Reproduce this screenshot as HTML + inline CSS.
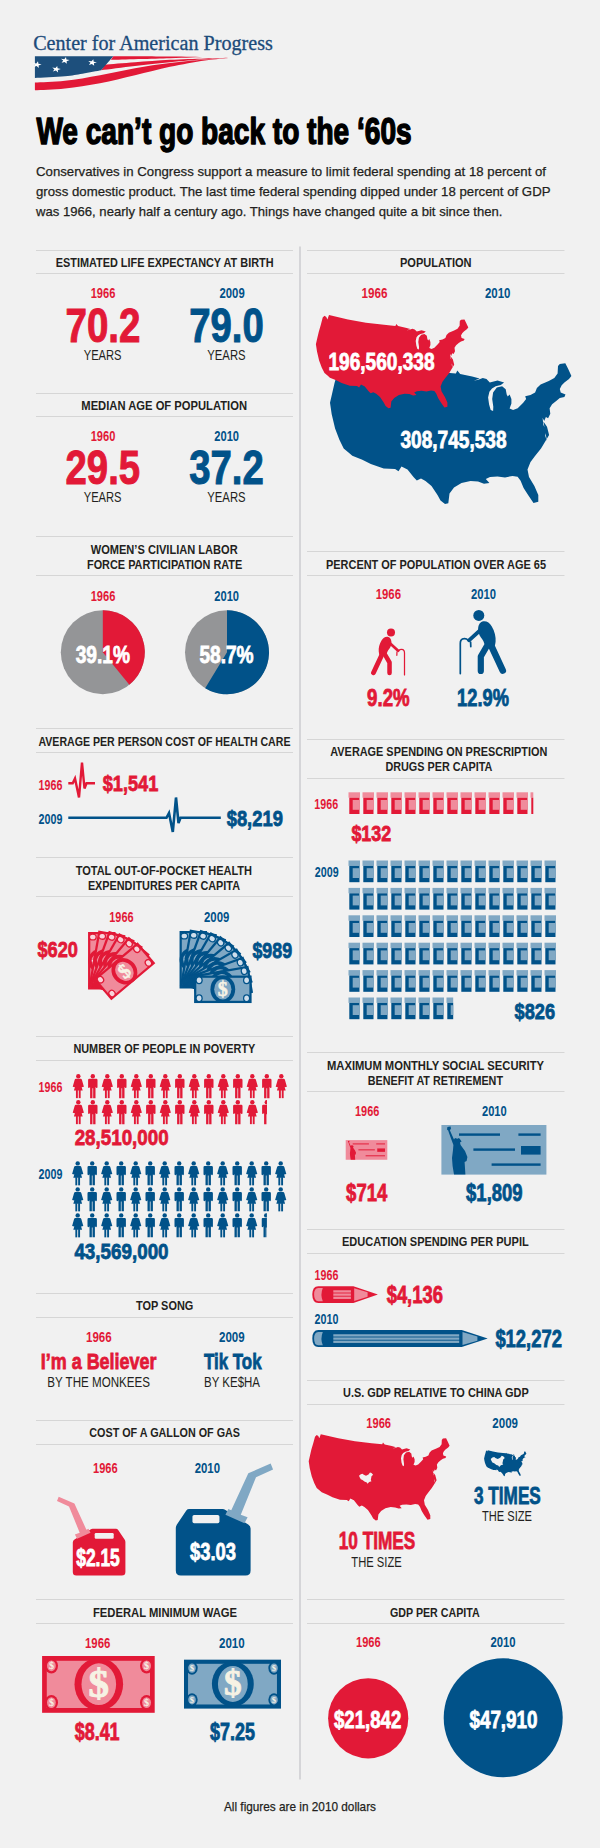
<!DOCTYPE html>
<html lang="en"><head><meta charset="utf-8"><title>We can't go back to the '60s</title>
<style>
html,body{margin:0;padding:0;background:#f1f1f1;}
body{width:600px;height:1848px;overflow:hidden;}
svg{display:block;}
text{font-family:"Liberation Sans",sans-serif;font-weight:bold;}
text.f{font-family:"Liberation Serif",serif;}
text.n{font-weight:normal;}
</style></head><body>
<svg width="600" height="1848" viewBox="0 0 600 1848">
<rect width="600" height="1848" fill="#f1f1f1"/>
<path d="M300,246.5V1779.5" stroke="#d5d5d8" stroke-width="2"/>
<text class="f n" x="33.2" y="50.4" font-size="20.5" fill="#1c4b7a" textLength="239.6" lengthAdjust="spacingAndGlyphs" stroke="#1c4b7a" stroke-width="0.3">Center for American Progress</text>
<g id="flag">
<path d="M34.9,82.6C39.9,82.3 54.2,82.0 65.0,80.8C75.9,79.6 88.3,77.3 100.0,75.2C111.7,73.1 123.3,70.2 135.0,68.2C146.7,66.2 158.3,64.4 170.0,63.0C181.7,61.5 195.0,60.3 205.0,59.5C215.0,58.6 226.0,58.0 230.2,57.7L230.2,57.7C226.0,58.2 215.0,59.0 205.0,60.5C195.0,62.0 181.7,64.4 170.0,66.8C158.3,69.3 146.7,72.5 135.0,75.2C123.3,77.9 111.7,81.0 100.0,83.3C88.3,85.5 75.9,87.3 65.0,88.5C54.2,89.7 39.9,90.0 34.9,90.3Z" fill="#e21937"/>
<path d="M104.9,64.7C109.9,64.3 124.2,63.1 135.0,62.3C145.9,61.4 158.3,60.4 170.0,59.8C181.7,59.2 195.0,58.8 205.0,58.4C215.0,58.1 226.0,57.8 230.2,57.7L230.2,57.7C226.0,58.0 215.0,58.5 205.0,59.3C195.0,60.0 181.7,61.1 170.0,62.3C158.3,63.4 146.4,64.8 135.0,66.1C123.6,67.4 107.0,69.6 101.4,70.3Z" fill="#e21937"/>
<path d="M113.3,56.3C122.8,56.3 154.7,56.4 170.0,56.5C185.3,56.6 199.2,56.9 205.0,57.0L205.0,57.0C199.2,57.2 185.7,57.8 170.0,58.2C154.3,58.7 120.7,59.5 110.9,59.8Z" fill="#e21937"/>
<path d="M34.9,56.3C48.0,56.3 100.2,56.3 113.3,56.3L101.1,70.3C98.0,70.9 88.5,72.8 82.5,73.8C76.5,74.8 72.9,75.6 65.0,76.3C57.1,77.0 39.9,77.7 34.9,78.0Z" fill="#1d4f7c"/>
<polygon points="93.3,59.2 93.7,61.7 96.9,62.2 93.9,63.3 94.2,65.8 91.9,64.0 88.9,64.9 90.5,62.7 88.3,60.9 91.6,61.3" fill="#fff"/>
<polygon points="66.0,57.1 66.4,59.6 69.6,60.1 66.6,61.2 66.9,63.7 64.6,61.9 61.6,62.8 63.2,60.6 61.0,58.8 64.3,59.2" fill="#fff"/>
<polygon points="57.2,65.9 57.6,68.3 60.8,68.9 57.8,69.9 58.1,72.4 55.9,70.6 52.8,71.6 54.4,69.4 52.3,67.5 55.5,68.0" fill="#fff"/>
<polygon points="38.0,61.3 38.4,63.8 41.6,64.3 38.6,65.4 38.9,67.9 36.6,66.1 33.6,67.0 35.2,64.8 33.0,63.0 36.3,63.4" fill="#fff"/>
</g>
<text class="s" x="36.4" y="144.0" font-size="36.5" fill="#000" textLength="375.2" lengthAdjust="spacingAndGlyphs" stroke="#000" stroke-width="1.5" stroke-linejoin="round">We can’t go back to the ‘60s</text>
<text class="s n" x="36.0" y="176.0" font-size="13.5" fill="#231f20" textLength="510.0" lengthAdjust="spacingAndGlyphs" stroke="#231f20" stroke-width="0.25">Conservatives in Congress support a measure to limit federal spending at 18 percent of</text>
<text class="s n" x="36.0" y="196.0" font-size="13.5" fill="#231f20" textLength="514.5" lengthAdjust="spacingAndGlyphs" stroke="#231f20" stroke-width="0.25">gross domestic product. The last time federal spending dipped under 18 percent of GDP</text>
<text class="s n" x="36.0" y="216.0" font-size="13.5" fill="#231f20" textLength="466.5" lengthAdjust="spacingAndGlyphs" stroke="#231f20" stroke-width="0.25">was 1966, nearly half a century ago. Things have changed quite a bit since then.</text>
<path d="M36,250.5H293" stroke="#d6d6d6" stroke-width="1"/>
<path d="M36,273.5H293" stroke="#d6d6d6" stroke-width="1"/>
<text class="s" x="55.7" y="267.0" font-size="12.5" fill="#231f20" textLength="217.9" lengthAdjust="spacingAndGlyphs">ESTIMATED LIFE EXPECTANCY AT BIRTH</text>
<text class="s" x="90.7" y="298.0" font-size="14" fill="#e21937" textLength="24.7" lengthAdjust="spacingAndGlyphs">1966</text>
<text class="s" x="219.5" y="298.0" font-size="14" fill="#015289" textLength="25.2" lengthAdjust="spacingAndGlyphs">2009</text>
<text class="s" x="65.5" y="341.5" font-size="47.5" fill="#e21937" textLength="75.0" lengthAdjust="spacingAndGlyphs" stroke="#e21937" stroke-width="1">70.2</text>
<text class="s" x="189.2" y="341.5" font-size="47.5" fill="#015289" textLength="74.6" lengthAdjust="spacingAndGlyphs" stroke="#015289" stroke-width="1">79.0</text>
<text class="s n" x="83.7" y="359.5" font-size="15" fill="#231f20" textLength="37.8" lengthAdjust="spacingAndGlyphs">YEARS</text>
<text class="s n" x="207.3" y="359.5" font-size="15" fill="#231f20" textLength="38.3" lengthAdjust="spacingAndGlyphs">YEARS</text>
<path d="M36,393.5H293" stroke="#d6d6d6" stroke-width="1"/>
<path d="M36,416.5H293" stroke="#d6d6d6" stroke-width="1"/>
<text class="s" x="81.3" y="410.0" font-size="12.5" fill="#231f20" textLength="165.7" lengthAdjust="spacingAndGlyphs">MEDIAN AGE OF POPULATION</text>
<text class="s" x="90.7" y="441.3" font-size="14" fill="#e21937" textLength="24.7" lengthAdjust="spacingAndGlyphs">1960</text>
<text class="s" x="214.3" y="441.3" font-size="14" fill="#015289" textLength="24.7" lengthAdjust="spacingAndGlyphs">2010</text>
<text class="s" x="65.5" y="484.0" font-size="47.5" fill="#e21937" textLength="74.6" lengthAdjust="spacingAndGlyphs" stroke="#e21937" stroke-width="1">29.5</text>
<text class="s" x="189.2" y="484.0" font-size="47.5" fill="#015289" textLength="74.6" lengthAdjust="spacingAndGlyphs" stroke="#015289" stroke-width="1">37.2</text>
<text class="s n" x="83.7" y="502.0" font-size="15" fill="#231f20" textLength="37.8" lengthAdjust="spacingAndGlyphs">YEARS</text>
<text class="s n" x="207.3" y="502.0" font-size="15" fill="#231f20" textLength="38.3" lengthAdjust="spacingAndGlyphs">YEARS</text>
<path d="M36,536.5H293" stroke="#d6d6d6" stroke-width="1"/>
<path d="M36,575.5H293" stroke="#d6d6d6" stroke-width="1"/>
<text class="s" x="90.7" y="553.8" font-size="12.5" fill="#231f20" textLength="147.0" lengthAdjust="spacingAndGlyphs">WOMEN’S CIVILIAN LABOR</text>
<text class="s" x="87.0" y="568.7" font-size="12.5" fill="#231f20" textLength="155.3" lengthAdjust="spacingAndGlyphs">FORCE PARTICIPATION RATE</text>
<text class="s" x="90.7" y="600.6" font-size="14" fill="#e21937" textLength="24.7" lengthAdjust="spacingAndGlyphs">1966</text>
<text class="s" x="214.3" y="600.6" font-size="14" fill="#015289" textLength="24.7" lengthAdjust="spacingAndGlyphs">2010</text>
<circle cx="102.8" cy="652.3" r="42" fill="#949597"/>
<path d="M102.8,652.3L102.8,610.3A42,42 0 0 1 129.37,684.83Z" fill="#e21937"/>
<circle cx="227" cy="652.3" r="42" fill="#949597"/>
<path d="M227,652.3L227,610.3A42,42 0 1 1 205.17,688.18Z" fill="#015289"/>
<text class="s" x="75.7" y="663.0" font-size="24.6" fill="#fff" textLength="54.2" lengthAdjust="spacingAndGlyphs" stroke="#fff" stroke-width="0.8">39.1%</text>
<text class="s" x="199.4" y="663.0" font-size="24.6" fill="#fff" textLength="54.2" lengthAdjust="spacingAndGlyphs" stroke="#fff" stroke-width="0.8">58.7%</text>
<path d="M36,728.5H293" stroke="#d6d6d6" stroke-width="1"/>
<path d="M36,752.5H293" stroke="#d6d6d6" stroke-width="1"/>
<text class="s" x="38.4" y="745.6" font-size="12.5" fill="#231f20" textLength="252.1" lengthAdjust="spacingAndGlyphs">AVERAGE PER PERSON COST OF HEALTH CARE</text>
<text class="s" x="38.6" y="789.5" font-size="13.8" fill="#e21937" textLength="23.8" lengthAdjust="spacingAndGlyphs">1966</text>
<text class="s" x="38.6" y="823.8" font-size="13.8" fill="#015289" textLength="23.8" lengthAdjust="spacingAndGlyphs">2009</text>
<path d="M68.3,783.3H72.7L75,778.5L79,797.5L82,762.5L84.5,788.5L86.5,783.3H95" fill="none" stroke="#e21937" stroke-width="2.4" stroke-linejoin="miter"/>
<path d="M68.3,817.8H166.5L169,813L172.8,832L176,797.5L178.5,823L180.5,817.8H220.8" fill="none" stroke="#015289" stroke-width="2.6" stroke-linejoin="miter"/>
<text class="s" x="102.7" y="791.3" font-size="22.5" fill="#e21937" textLength="55.6" lengthAdjust="spacingAndGlyphs" stroke="#e21937" stroke-width="0.8">$1,541</text>
<text class="s" x="226.7" y="826.0" font-size="22.5" fill="#015289" textLength="56.2" lengthAdjust="spacingAndGlyphs" stroke="#015289" stroke-width="0.8">$8,219</text>
<path d="M36,857.5H293" stroke="#d6d6d6" stroke-width="1"/>
<path d="M36,896.5H293" stroke="#d6d6d6" stroke-width="1"/>
<text class="s" x="75.7" y="874.9" font-size="12.5" fill="#231f20" textLength="176.3" lengthAdjust="spacingAndGlyphs">TOTAL OUT-OF-POCKET HEALTH</text>
<text class="s" x="87.9" y="889.9" font-size="12.5" fill="#231f20" textLength="152.1" lengthAdjust="spacingAndGlyphs">EXPENDITURES PER CAPITA</text>
<text class="s" x="109.3" y="921.5" font-size="14" fill="#e21937" textLength="24.3" lengthAdjust="spacingAndGlyphs">1966</text>
<text class="s" x="204.0" y="921.5" font-size="14" fill="#015289" textLength="25.3" lengthAdjust="spacingAndGlyphs">2009</text>
<text class="s" x="37.4" y="957.3" font-size="22.3" fill="#e21937" textLength="40.5" lengthAdjust="spacingAndGlyphs" stroke="#e21937" stroke-width="0.8">$620</text>
<text class="s" x="252.4" y="957.5" font-size="22.3" fill="#015289" textLength="39.7" lengthAdjust="spacingAndGlyphs" stroke="#015289" stroke-width="0.8">$989</text>
<g transform="translate(101.8,990.3) rotate(-90)"><rect x="0.8" y="-13.75" width="57.5" height="27.5" fill="#e21937"/><rect x="3" y="-11.5" width="53.1" height="23" fill="#f08b9b"/><ellipse cx="5.8" cy="-9" rx="3.6" ry="4" fill="#e21937"/><ellipse cx="5.8" cy="-9" rx="2.3" ry="2.7" fill="#f9d3da"/><ellipse cx="5.8" cy="9" rx="3.6" ry="4" fill="#e21937"/><ellipse cx="5.8" cy="9" rx="2.3" ry="2.7" fill="#f9d3da"/><ellipse cx="53.3" cy="-9" rx="3.6" ry="4" fill="#e21937"/><ellipse cx="53.3" cy="-9" rx="2.3" ry="2.7" fill="#f9d3da"/><ellipse cx="53.3" cy="9" rx="3.6" ry="4" fill="#e21937"/><ellipse cx="53.3" cy="9" rx="2.3" ry="2.7" fill="#f9d3da"/><ellipse cx="29.5" cy="0" rx="12.4" ry="13.75" fill="#e21937"/><ellipse cx="29.5" cy="0" rx="8.6" ry="10.2" fill="#f08b9b"/><text class="f" x="29.5" y="6.6" font-size="20" text-anchor="middle" fill="#f7f3e6" stroke="#f7f3e6" stroke-width="0.5">$</text></g>
<g transform="translate(101.8,990.3) rotate(-80)"><rect x="0.8" y="-13.75" width="57.5" height="27.5" fill="#e21937"/><rect x="3" y="-11.5" width="53.1" height="23" fill="#f08b9b"/><ellipse cx="5.8" cy="-9" rx="3.6" ry="4" fill="#e21937"/><ellipse cx="5.8" cy="-9" rx="2.3" ry="2.7" fill="#f9d3da"/><ellipse cx="5.8" cy="9" rx="3.6" ry="4" fill="#e21937"/><ellipse cx="5.8" cy="9" rx="2.3" ry="2.7" fill="#f9d3da"/><ellipse cx="53.3" cy="-9" rx="3.6" ry="4" fill="#e21937"/><ellipse cx="53.3" cy="-9" rx="2.3" ry="2.7" fill="#f9d3da"/><ellipse cx="53.3" cy="9" rx="3.6" ry="4" fill="#e21937"/><ellipse cx="53.3" cy="9" rx="2.3" ry="2.7" fill="#f9d3da"/><ellipse cx="29.5" cy="0" rx="12.4" ry="13.75" fill="#e21937"/><ellipse cx="29.5" cy="0" rx="8.6" ry="10.2" fill="#f08b9b"/><text class="f" x="29.5" y="6.6" font-size="20" text-anchor="middle" fill="#f7f3e6" stroke="#f7f3e6" stroke-width="0.5">$</text></g>
<g transform="translate(101.8,990.3) rotate(-70)"><rect x="0.8" y="-13.75" width="57.5" height="27.5" fill="#e21937"/><rect x="3" y="-11.5" width="53.1" height="23" fill="#f08b9b"/><ellipse cx="5.8" cy="-9" rx="3.6" ry="4" fill="#e21937"/><ellipse cx="5.8" cy="-9" rx="2.3" ry="2.7" fill="#f9d3da"/><ellipse cx="5.8" cy="9" rx="3.6" ry="4" fill="#e21937"/><ellipse cx="5.8" cy="9" rx="2.3" ry="2.7" fill="#f9d3da"/><ellipse cx="53.3" cy="-9" rx="3.6" ry="4" fill="#e21937"/><ellipse cx="53.3" cy="-9" rx="2.3" ry="2.7" fill="#f9d3da"/><ellipse cx="53.3" cy="9" rx="3.6" ry="4" fill="#e21937"/><ellipse cx="53.3" cy="9" rx="2.3" ry="2.7" fill="#f9d3da"/><ellipse cx="29.5" cy="0" rx="12.4" ry="13.75" fill="#e21937"/><ellipse cx="29.5" cy="0" rx="8.6" ry="10.2" fill="#f08b9b"/><text class="f" x="29.5" y="6.6" font-size="20" text-anchor="middle" fill="#f7f3e6" stroke="#f7f3e6" stroke-width="0.5">$</text></g>
<g transform="translate(101.8,990.3) rotate(-60)"><rect x="0.8" y="-13.75" width="57.5" height="27.5" fill="#e21937"/><rect x="3" y="-11.5" width="53.1" height="23" fill="#f08b9b"/><ellipse cx="5.8" cy="-9" rx="3.6" ry="4" fill="#e21937"/><ellipse cx="5.8" cy="-9" rx="2.3" ry="2.7" fill="#f9d3da"/><ellipse cx="5.8" cy="9" rx="3.6" ry="4" fill="#e21937"/><ellipse cx="5.8" cy="9" rx="2.3" ry="2.7" fill="#f9d3da"/><ellipse cx="53.3" cy="-9" rx="3.6" ry="4" fill="#e21937"/><ellipse cx="53.3" cy="-9" rx="2.3" ry="2.7" fill="#f9d3da"/><ellipse cx="53.3" cy="9" rx="3.6" ry="4" fill="#e21937"/><ellipse cx="53.3" cy="9" rx="2.3" ry="2.7" fill="#f9d3da"/><ellipse cx="29.5" cy="0" rx="12.4" ry="13.75" fill="#e21937"/><ellipse cx="29.5" cy="0" rx="8.6" ry="10.2" fill="#f08b9b"/><text class="f" x="29.5" y="6.6" font-size="20" text-anchor="middle" fill="#f7f3e6" stroke="#f7f3e6" stroke-width="0.5">$</text></g>
<g transform="translate(101.8,990.3) rotate(-50)"><rect x="0.8" y="-13.75" width="57.5" height="27.5" fill="#e21937"/><rect x="3" y="-11.5" width="53.1" height="23" fill="#f08b9b"/><ellipse cx="5.8" cy="-9" rx="3.6" ry="4" fill="#e21937"/><ellipse cx="5.8" cy="-9" rx="2.3" ry="2.7" fill="#f9d3da"/><ellipse cx="5.8" cy="9" rx="3.6" ry="4" fill="#e21937"/><ellipse cx="5.8" cy="9" rx="2.3" ry="2.7" fill="#f9d3da"/><ellipse cx="53.3" cy="-9" rx="3.6" ry="4" fill="#e21937"/><ellipse cx="53.3" cy="-9" rx="2.3" ry="2.7" fill="#f9d3da"/><ellipse cx="53.3" cy="9" rx="3.6" ry="4" fill="#e21937"/><ellipse cx="53.3" cy="9" rx="2.3" ry="2.7" fill="#f9d3da"/><ellipse cx="29.5" cy="0" rx="12.4" ry="13.75" fill="#e21937"/><ellipse cx="29.5" cy="0" rx="8.6" ry="10.2" fill="#f08b9b"/><text class="f" x="29.5" y="6.6" font-size="20" text-anchor="middle" fill="#f7f3e6" stroke="#f7f3e6" stroke-width="0.5">$</text></g>
<g transform="translate(101.8,990.3) rotate(-40)"><rect x="0.8" y="-13.75" width="57.5" height="27.5" fill="#e21937"/><rect x="3" y="-11.5" width="53.1" height="23" fill="#f08b9b"/><ellipse cx="5.8" cy="-9" rx="3.6" ry="4" fill="#e21937"/><ellipse cx="5.8" cy="-9" rx="2.3" ry="2.7" fill="#f9d3da"/><ellipse cx="5.8" cy="9" rx="3.6" ry="4" fill="#e21937"/><ellipse cx="5.8" cy="9" rx="2.3" ry="2.7" fill="#f9d3da"/><ellipse cx="53.3" cy="-9" rx="3.6" ry="4" fill="#e21937"/><ellipse cx="53.3" cy="-9" rx="2.3" ry="2.7" fill="#f9d3da"/><ellipse cx="53.3" cy="9" rx="3.6" ry="4" fill="#e21937"/><ellipse cx="53.3" cy="9" rx="2.3" ry="2.7" fill="#f9d3da"/><ellipse cx="29.5" cy="0" rx="12.4" ry="13.75" fill="#e21937"/><ellipse cx="29.5" cy="0" rx="8.6" ry="10.2" fill="#f08b9b"/><text class="f" x="29.5" y="6.6" font-size="20" text-anchor="middle" fill="#f7f3e6" stroke="#f7f3e6" stroke-width="0.5">$</text></g>
<g transform="translate(193.3,989.3) rotate(-90)"><rect x="0.8" y="-13.75" width="57.5" height="27.5" fill="#015289"/><rect x="3" y="-11.5" width="53.1" height="23" fill="#80a8c4"/><ellipse cx="5.8" cy="-9" rx="3.6" ry="4" fill="#015289"/><ellipse cx="5.8" cy="-9" rx="2.3" ry="2.7" fill="#cfdeec"/><ellipse cx="5.8" cy="9" rx="3.6" ry="4" fill="#015289"/><ellipse cx="5.8" cy="9" rx="2.3" ry="2.7" fill="#cfdeec"/><ellipse cx="53.3" cy="-9" rx="3.6" ry="4" fill="#015289"/><ellipse cx="53.3" cy="-9" rx="2.3" ry="2.7" fill="#cfdeec"/><ellipse cx="53.3" cy="9" rx="3.6" ry="4" fill="#015289"/><ellipse cx="53.3" cy="9" rx="2.3" ry="2.7" fill="#cfdeec"/><ellipse cx="29.5" cy="0" rx="12.4" ry="13.75" fill="#015289"/><ellipse cx="29.5" cy="0" rx="8.6" ry="10.2" fill="#80a8c4"/><text class="f" x="29.5" y="6.6" font-size="20" text-anchor="middle" fill="#f7f3e6" stroke="#f7f3e6" stroke-width="0.5">$</text></g>
<g transform="translate(193.3,989.3) rotate(-80)"><rect x="0.8" y="-13.75" width="57.5" height="27.5" fill="#015289"/><rect x="3" y="-11.5" width="53.1" height="23" fill="#80a8c4"/><ellipse cx="5.8" cy="-9" rx="3.6" ry="4" fill="#015289"/><ellipse cx="5.8" cy="-9" rx="2.3" ry="2.7" fill="#cfdeec"/><ellipse cx="5.8" cy="9" rx="3.6" ry="4" fill="#015289"/><ellipse cx="5.8" cy="9" rx="2.3" ry="2.7" fill="#cfdeec"/><ellipse cx="53.3" cy="-9" rx="3.6" ry="4" fill="#015289"/><ellipse cx="53.3" cy="-9" rx="2.3" ry="2.7" fill="#cfdeec"/><ellipse cx="53.3" cy="9" rx="3.6" ry="4" fill="#015289"/><ellipse cx="53.3" cy="9" rx="2.3" ry="2.7" fill="#cfdeec"/><ellipse cx="29.5" cy="0" rx="12.4" ry="13.75" fill="#015289"/><ellipse cx="29.5" cy="0" rx="8.6" ry="10.2" fill="#80a8c4"/><text class="f" x="29.5" y="6.6" font-size="20" text-anchor="middle" fill="#f7f3e6" stroke="#f7f3e6" stroke-width="0.5">$</text></g>
<g transform="translate(193.3,989.3) rotate(-70)"><rect x="0.8" y="-13.75" width="57.5" height="27.5" fill="#015289"/><rect x="3" y="-11.5" width="53.1" height="23" fill="#80a8c4"/><ellipse cx="5.8" cy="-9" rx="3.6" ry="4" fill="#015289"/><ellipse cx="5.8" cy="-9" rx="2.3" ry="2.7" fill="#cfdeec"/><ellipse cx="5.8" cy="9" rx="3.6" ry="4" fill="#015289"/><ellipse cx="5.8" cy="9" rx="2.3" ry="2.7" fill="#cfdeec"/><ellipse cx="53.3" cy="-9" rx="3.6" ry="4" fill="#015289"/><ellipse cx="53.3" cy="-9" rx="2.3" ry="2.7" fill="#cfdeec"/><ellipse cx="53.3" cy="9" rx="3.6" ry="4" fill="#015289"/><ellipse cx="53.3" cy="9" rx="2.3" ry="2.7" fill="#cfdeec"/><ellipse cx="29.5" cy="0" rx="12.4" ry="13.75" fill="#015289"/><ellipse cx="29.5" cy="0" rx="8.6" ry="10.2" fill="#80a8c4"/><text class="f" x="29.5" y="6.6" font-size="20" text-anchor="middle" fill="#f7f3e6" stroke="#f7f3e6" stroke-width="0.5">$</text></g>
<g transform="translate(193.3,989.3) rotate(-60)"><rect x="0.8" y="-13.75" width="57.5" height="27.5" fill="#015289"/><rect x="3" y="-11.5" width="53.1" height="23" fill="#80a8c4"/><ellipse cx="5.8" cy="-9" rx="3.6" ry="4" fill="#015289"/><ellipse cx="5.8" cy="-9" rx="2.3" ry="2.7" fill="#cfdeec"/><ellipse cx="5.8" cy="9" rx="3.6" ry="4" fill="#015289"/><ellipse cx="5.8" cy="9" rx="2.3" ry="2.7" fill="#cfdeec"/><ellipse cx="53.3" cy="-9" rx="3.6" ry="4" fill="#015289"/><ellipse cx="53.3" cy="-9" rx="2.3" ry="2.7" fill="#cfdeec"/><ellipse cx="53.3" cy="9" rx="3.6" ry="4" fill="#015289"/><ellipse cx="53.3" cy="9" rx="2.3" ry="2.7" fill="#cfdeec"/><ellipse cx="29.5" cy="0" rx="12.4" ry="13.75" fill="#015289"/><ellipse cx="29.5" cy="0" rx="8.6" ry="10.2" fill="#80a8c4"/><text class="f" x="29.5" y="6.6" font-size="20" text-anchor="middle" fill="#f7f3e6" stroke="#f7f3e6" stroke-width="0.5">$</text></g>
<g transform="translate(193.3,989.3) rotate(-50)"><rect x="0.8" y="-13.75" width="57.5" height="27.5" fill="#015289"/><rect x="3" y="-11.5" width="53.1" height="23" fill="#80a8c4"/><ellipse cx="5.8" cy="-9" rx="3.6" ry="4" fill="#015289"/><ellipse cx="5.8" cy="-9" rx="2.3" ry="2.7" fill="#cfdeec"/><ellipse cx="5.8" cy="9" rx="3.6" ry="4" fill="#015289"/><ellipse cx="5.8" cy="9" rx="2.3" ry="2.7" fill="#cfdeec"/><ellipse cx="53.3" cy="-9" rx="3.6" ry="4" fill="#015289"/><ellipse cx="53.3" cy="-9" rx="2.3" ry="2.7" fill="#cfdeec"/><ellipse cx="53.3" cy="9" rx="3.6" ry="4" fill="#015289"/><ellipse cx="53.3" cy="9" rx="2.3" ry="2.7" fill="#cfdeec"/><ellipse cx="29.5" cy="0" rx="12.4" ry="13.75" fill="#015289"/><ellipse cx="29.5" cy="0" rx="8.6" ry="10.2" fill="#80a8c4"/><text class="f" x="29.5" y="6.6" font-size="20" text-anchor="middle" fill="#f7f3e6" stroke="#f7f3e6" stroke-width="0.5">$</text></g>
<g transform="translate(193.3,989.3) rotate(-40)"><rect x="0.8" y="-13.75" width="57.5" height="27.5" fill="#015289"/><rect x="3" y="-11.5" width="53.1" height="23" fill="#80a8c4"/><ellipse cx="5.8" cy="-9" rx="3.6" ry="4" fill="#015289"/><ellipse cx="5.8" cy="-9" rx="2.3" ry="2.7" fill="#cfdeec"/><ellipse cx="5.8" cy="9" rx="3.6" ry="4" fill="#015289"/><ellipse cx="5.8" cy="9" rx="2.3" ry="2.7" fill="#cfdeec"/><ellipse cx="53.3" cy="-9" rx="3.6" ry="4" fill="#015289"/><ellipse cx="53.3" cy="-9" rx="2.3" ry="2.7" fill="#cfdeec"/><ellipse cx="53.3" cy="9" rx="3.6" ry="4" fill="#015289"/><ellipse cx="53.3" cy="9" rx="2.3" ry="2.7" fill="#cfdeec"/><ellipse cx="29.5" cy="0" rx="12.4" ry="13.75" fill="#015289"/><ellipse cx="29.5" cy="0" rx="8.6" ry="10.2" fill="#80a8c4"/><text class="f" x="29.5" y="6.6" font-size="20" text-anchor="middle" fill="#f7f3e6" stroke="#f7f3e6" stroke-width="0.5">$</text></g>
<g transform="translate(193.3,989.3) rotate(-30)"><rect x="0.8" y="-13.75" width="57.5" height="27.5" fill="#015289"/><rect x="3" y="-11.5" width="53.1" height="23" fill="#80a8c4"/><ellipse cx="5.8" cy="-9" rx="3.6" ry="4" fill="#015289"/><ellipse cx="5.8" cy="-9" rx="2.3" ry="2.7" fill="#cfdeec"/><ellipse cx="5.8" cy="9" rx="3.6" ry="4" fill="#015289"/><ellipse cx="5.8" cy="9" rx="2.3" ry="2.7" fill="#cfdeec"/><ellipse cx="53.3" cy="-9" rx="3.6" ry="4" fill="#015289"/><ellipse cx="53.3" cy="-9" rx="2.3" ry="2.7" fill="#cfdeec"/><ellipse cx="53.3" cy="9" rx="3.6" ry="4" fill="#015289"/><ellipse cx="53.3" cy="9" rx="2.3" ry="2.7" fill="#cfdeec"/><ellipse cx="29.5" cy="0" rx="12.4" ry="13.75" fill="#015289"/><ellipse cx="29.5" cy="0" rx="8.6" ry="10.2" fill="#80a8c4"/><text class="f" x="29.5" y="6.6" font-size="20" text-anchor="middle" fill="#f7f3e6" stroke="#f7f3e6" stroke-width="0.5">$</text></g>
<g transform="translate(193.3,989.3) rotate(-20)"><rect x="0.8" y="-13.75" width="57.5" height="27.5" fill="#015289"/><rect x="3" y="-11.5" width="53.1" height="23" fill="#80a8c4"/><ellipse cx="5.8" cy="-9" rx="3.6" ry="4" fill="#015289"/><ellipse cx="5.8" cy="-9" rx="2.3" ry="2.7" fill="#cfdeec"/><ellipse cx="5.8" cy="9" rx="3.6" ry="4" fill="#015289"/><ellipse cx="5.8" cy="9" rx="2.3" ry="2.7" fill="#cfdeec"/><ellipse cx="53.3" cy="-9" rx="3.6" ry="4" fill="#015289"/><ellipse cx="53.3" cy="-9" rx="2.3" ry="2.7" fill="#cfdeec"/><ellipse cx="53.3" cy="9" rx="3.6" ry="4" fill="#015289"/><ellipse cx="53.3" cy="9" rx="2.3" ry="2.7" fill="#cfdeec"/><ellipse cx="29.5" cy="0" rx="12.4" ry="13.75" fill="#015289"/><ellipse cx="29.5" cy="0" rx="8.6" ry="10.2" fill="#80a8c4"/><text class="f" x="29.5" y="6.6" font-size="20" text-anchor="middle" fill="#f7f3e6" stroke="#f7f3e6" stroke-width="0.5">$</text></g>
<g transform="translate(193.3,989.3) rotate(-10)"><rect x="0.8" y="-13.75" width="57.5" height="27.5" fill="#015289"/><rect x="3" y="-11.5" width="53.1" height="23" fill="#80a8c4"/><ellipse cx="5.8" cy="-9" rx="3.6" ry="4" fill="#015289"/><ellipse cx="5.8" cy="-9" rx="2.3" ry="2.7" fill="#cfdeec"/><ellipse cx="5.8" cy="9" rx="3.6" ry="4" fill="#015289"/><ellipse cx="5.8" cy="9" rx="2.3" ry="2.7" fill="#cfdeec"/><ellipse cx="53.3" cy="-9" rx="3.6" ry="4" fill="#015289"/><ellipse cx="53.3" cy="-9" rx="2.3" ry="2.7" fill="#cfdeec"/><ellipse cx="53.3" cy="9" rx="3.6" ry="4" fill="#015289"/><ellipse cx="53.3" cy="9" rx="2.3" ry="2.7" fill="#cfdeec"/><ellipse cx="29.5" cy="0" rx="12.4" ry="13.75" fill="#015289"/><ellipse cx="29.5" cy="0" rx="8.6" ry="10.2" fill="#80a8c4"/><text class="f" x="29.5" y="6.6" font-size="20" text-anchor="middle" fill="#f7f3e6" stroke="#f7f3e6" stroke-width="0.5">$</text></g>
<g transform="translate(193.3,989.3) rotate(0)"><rect x="0.8" y="-13.75" width="57.5" height="27.5" fill="#015289"/><rect x="3" y="-11.5" width="53.1" height="23" fill="#80a8c4"/><ellipse cx="5.8" cy="-9" rx="3.6" ry="4" fill="#015289"/><ellipse cx="5.8" cy="-9" rx="2.3" ry="2.7" fill="#cfdeec"/><ellipse cx="5.8" cy="9" rx="3.6" ry="4" fill="#015289"/><ellipse cx="5.8" cy="9" rx="2.3" ry="2.7" fill="#cfdeec"/><ellipse cx="53.3" cy="-9" rx="3.6" ry="4" fill="#015289"/><ellipse cx="53.3" cy="-9" rx="2.3" ry="2.7" fill="#cfdeec"/><ellipse cx="53.3" cy="9" rx="3.6" ry="4" fill="#015289"/><ellipse cx="53.3" cy="9" rx="2.3" ry="2.7" fill="#cfdeec"/><ellipse cx="29.5" cy="0" rx="12.4" ry="13.75" fill="#015289"/><ellipse cx="29.5" cy="0" rx="8.6" ry="10.2" fill="#80a8c4"/><text class="f" x="29.5" y="6.6" font-size="20" text-anchor="middle" fill="#f7f3e6" stroke="#f7f3e6" stroke-width="0.5">$</text></g>
<path d="M307,250.5H564.5" stroke="#d6d6d6" stroke-width="1"/>
<path d="M307,273.5H564.5" stroke="#d6d6d6" stroke-width="1"/>
<text class="s" x="400.0" y="267.0" font-size="12.5" fill="#231f20" textLength="71.5" lengthAdjust="spacingAndGlyphs">POPULATION</text>
<text class="s" x="361.5" y="298.0" font-size="14" fill="#e21937" textLength="26.0" lengthAdjust="spacingAndGlyphs">1966</text>
<text class="s" x="485.0" y="298.0" font-size="14" fill="#015289" textLength="25.5" lengthAdjust="spacingAndGlyphs">2010</text>
<polygon points="330.0,402.7 332.3,392.7 334.6,382.8 338.0,371.3 340.8,360.5 343.7,357.6 346.6,359.3 348.3,363.3 350.8,356.5 380.8,363.3 409.4,368.5 437.9,371.9 455.9,373.6 457.3,370.5 460.2,373.9 472.2,376.5 479.6,378.5 473.7,380.7 478.2,379.8 482.8,378.0 486.5,379.1 489.8,382.6 497.5,380.4 504.1,382.6 500.8,385.1 495.7,386.2 492.0,388.4 489.4,391.7 488.1,397.6 489.1,404.6 490.7,410.1 493.1,411.0 493.3,406.8 492.2,399.1 493.1,392.5 496.8,387.5 502.1,386.2 505.7,389.2 506.7,394.5 507.8,396.5 509.6,394.5 511.4,399.1 511.4,403.6 509.6,408.6 513.1,410.1 517.7,408.2 523.2,402.7 526.1,399.1 525.2,396.3 530.5,395.0 535.1,392.6 536.9,388.1 540.6,384.4 548.8,380.9 554.3,378.0 557.6,373.4 558.0,366.1 559.8,363.9 565.3,363.3 568.1,368.8 571.4,376.1 569.0,378.9 564.4,382.6 561.7,385.3 559.8,389.0 560.7,392.6 565.5,394.5 564.4,396.9 559.8,398.1 556.2,400.9 552.1,404.2 549.6,408.2 550.3,413.7 548.1,418.3 545.9,416.9 544.2,421.1 542.6,417.8 543.3,424.7 545.9,430.2 545.2,435.7 547.0,441.2 543.4,421.6 547.0,426.7 549.1,435.1 545.5,441.1 541.0,448.6 535.0,456.1 530.5,462.1 527.5,469.6 529.0,477.1 534.4,486.1 538.3,495.1 538.3,501.7 533.5,502.9 528.1,495.1 523.6,487.9 520.6,480.7 517.6,476.8 512.5,475.9 505.0,477.4 497.5,476.5 490.0,477.1 485.8,478.9 489.4,483.1 484.0,483.7 478.0,481.6 470.5,481.0 461.5,483.1 454.0,487.6 449.5,493.6 448.3,503.2 445.0,504.1 440.5,500.5 437.5,495.1 431.5,486.1 425.5,481.0 421.0,478.6 416.8,480.4 413.5,477.1 407.5,469.6 401.5,466.6 398.5,471.3 395.1,469.0 383.7,468.4 370.8,464.1 362.3,459.8 352.3,455.8 348.8,452.7 343.7,448.4 339.4,439.8 335.1,428.4 331.7,414.2" fill="#015289"/>
<polygon points="315.9,344.3 317.3,338.0 318.8,331.7 320.9,324.5 322.7,317.6 324.5,315.8 326.3,316.9 327.4,319.4 329.0,315.1 348.0,319.4 366.0,322.7 384.0,324.8 395.4,325.9 396.3,323.9 398.1,326.1 405.6,327.7 410.3,329.0 406.6,330.4 409.5,329.8 412.4,328.7 414.7,329.4 416.8,331.6 421.6,330.2 425.8,331.6 423.7,333.2 420.5,333.9 418.2,335.3 416.5,337.3 415.7,341.1 416.3,345.4 417.4,348.9 418.9,349.5 419.0,346.8 418.3,342.0 418.9,337.8 421.2,334.7 424.5,333.9 426.8,335.7 427.4,339.1 428.1,340.4 429.3,339.1 430.4,342.0 430.4,344.9 429.3,348.0 431.5,348.9 434.4,347.8 437.8,344.3 439.7,342.0 439.1,340.2 442.5,339.4 445.4,337.9 446.5,335.0 448.8,332.7 454.1,330.5 457.5,328.7 459.6,325.8 459.8,321.1 461.0,319.7 464.5,319.4 466.2,322.9 468.3,327.5 466.8,329.2 463.9,331.6 462.2,333.3 461.0,335.6 461.6,337.9 464.6,339.1 463.9,340.6 461.0,341.4 458.7,343.1 456.1,345.2 454.5,347.8 455.0,351.2 453.6,354.1 452.2,353.2 451.2,355.9 450.1,353.8 450.6,358.2 452.2,361.7 451.7,365.1 452.9,368.6 450.6,356.2 452.9,359.4 454.2,364.7 451.9,368.5 449.1,373.2 445.3,378.0 442.5,381.8 440.6,386.5 441.5,391.2 444.9,396.9 447.4,402.6 447.4,406.8 444.4,407.5 440.9,402.6 438.1,398.0 436.2,393.5 434.3,391.0 431.1,390.5 426.4,391.4 421.6,390.8 416.9,391.2 414.2,392.4 416.5,395.0 413.1,395.4 409.3,394.1 404.6,393.7 398.9,395.0 394.2,397.9 391.3,401.6 390.6,407.7 388.5,408.3 385.6,406.0 383.7,402.6 380.0,396.9 376.2,393.7 373.3,392.2 370.7,393.3 368.6,391.2 364.8,386.5 361.0,384.6 359.1,387.6 357.0,386.1 349.8,385.8 341.6,383.1 336.2,380.3 329.9,377.8 327.8,375.8 324.5,373.1 321.8,367.7 319.1,360.5 317.0,351.5" fill="#e21937"/>
<text class="s" x="328.4" y="370.0" font-size="24" fill="#fff" textLength="106.2" lengthAdjust="spacingAndGlyphs" stroke="#fff" stroke-width="0.8">196,560,338</text>
<text class="s" x="400.4" y="447.5" font-size="24" fill="#fff" textLength="106.2" lengthAdjust="spacingAndGlyphs" stroke="#fff" stroke-width="0.8">308,745,538</text>
<path d="M307,551.5H564.5" stroke="#d6d6d6" stroke-width="1"/>
<path d="M307,575.5H564.5" stroke="#d6d6d6" stroke-width="1"/>
<text class="s" x="326.0" y="568.5" font-size="12.5" fill="#231f20" textLength="220.0" lengthAdjust="spacingAndGlyphs">PERCENT OF POPULATION OVER AGE 65</text>
<text class="s" x="375.7" y="599.0" font-size="14" fill="#e21937" textLength="25.3" lengthAdjust="spacingAndGlyphs">1966</text>
<text class="s" x="471.0" y="599.0" font-size="14" fill="#015289" textLength="25.0" lengthAdjust="spacingAndGlyphs">2010</text>
<g fill="#015289" stroke="#015289" stroke-linecap="round" stroke-linejoin="round"><circle cx="478.8" cy="615.4" r="5.5" stroke="none"/><path d="M482.3,621.6 C486,620.6 489.5,622.5 491.8,626.5 C494.8,631.5 496,637 495.6,641.5 C495.4,644 494.8,646 494,647.5 L485.2,647.5 C484.6,644 483.8,641.5 482.4,639.5 C480,636.5 478.6,634 478.2,630.5 C477.8,626 479.5,622.6 482.3,621.6 Z" stroke="none"/><path d="M491.6,646.5 L502.8,670.6" stroke-width="6.6" fill="none"/><path d="M486.6,646.5 L480.8,656.5 L480.8,671" stroke-width="6.2" fill="none"/><path d="M481,629.5 L469,640.3" stroke-width="3.8" fill="none"/><path d="M470.6,642 L470.8,646.6" stroke-width="1.7" fill="none"/><path d="M468,640.2 C466.5,638.2 462.5,638 461,640.2 C460.4,641.2 460.3,642 460.3,643.5 L460.3,673.6" stroke-width="1.7" fill="none"/></g>
<g transform="translate(740.52,183.26) scale(-0.73,0.73)"><g fill="#e21937" stroke="#e21937" stroke-linecap="round" stroke-linejoin="round"><circle cx="478.8" cy="615.4" r="5.5" stroke="none"/><path d="M482.3,621.6 C486,620.6 489.5,622.5 491.8,626.5 C494.8,631.5 496,637 495.6,641.5 C495.4,644 494.8,646 494,647.5 L485.2,647.5 C484.6,644 483.8,641.5 482.4,639.5 C480,636.5 478.6,634 478.2,630.5 C477.8,626 479.5,622.6 482.3,621.6 Z" stroke="none"/><path d="M491.6,646.5 L502.8,670.6" stroke-width="6.6" fill="none"/><path d="M486.6,646.5 L480.8,656.5 L480.8,671" stroke-width="6.2" fill="none"/><path d="M481,629.5 L469,640.3" stroke-width="3.8" fill="none"/><path d="M470.6,642 L470.8,646.6" stroke-width="1.7" fill="none"/><path d="M468,640.2 C466.5,638.2 462.5,638 461,640.2 C460.4,641.2 460.3,642 460.3,643.5 L460.3,673.6" stroke-width="1.7" fill="none"/></g></g>
<text class="s" x="367.1" y="706.0" font-size="23.2" fill="#e21937" textLength="42.5" lengthAdjust="spacingAndGlyphs" stroke="#e21937" stroke-width="0.8">9.2%</text>
<text class="s" x="457.1" y="706.0" font-size="23.2" fill="#015289" textLength="51.8" lengthAdjust="spacingAndGlyphs" stroke="#015289" stroke-width="0.8">12.9%</text>
<path d="M307,739.5H564.5" stroke="#d6d6d6" stroke-width="1"/>
<path d="M307,778.5H564.5" stroke="#d6d6d6" stroke-width="1"/>
<text class="s" x="330.3" y="755.7" font-size="12.5" fill="#231f20" textLength="217.0" lengthAdjust="spacingAndGlyphs">AVERAGE SPENDING ON PRESCRIPTION</text>
<text class="s" x="385.4" y="771.0" font-size="12.5" fill="#231f20" textLength="106.9" lengthAdjust="spacingAndGlyphs">DRUGS PER CAPITA</text>
<text class="s" x="314.3" y="809.3" font-size="13.8" fill="#e21937" textLength="23.8" lengthAdjust="spacingAndGlyphs">1966</text>
<text class="s" x="314.8" y="877.2" font-size="13.8" fill="#015289" textLength="23.8" lengthAdjust="spacingAndGlyphs">2009</text>
<defs><g id="pbR"><rect x="0" y="0" width="11.5" height="5.4" fill="#f08b9b"/><rect x="0.8" y="5.4" width="10.2" height="16.3" fill="#e21937"/><rect x="4.2" y="7.7" width="6.8" height="9.8" fill="#f08b9b"/></g><g id="pbB"><rect x="0" y="0" width="11.5" height="5.4" fill="#80a8c4"/><rect x="0.8" y="5.4" width="10.2" height="16.3" fill="#015289"/><rect x="4.2" y="7.7" width="6.8" height="9.8" fill="#80a8c4"/></g><clipPath id="cpR"><rect x="340" y="785" width="193.3" height="40"/></clipPath><clipPath id="cpB"><rect x="340" y="990" width="113.2" height="40"/></clipPath></defs>
<g clip-path="url(#cpR)"><use href="#pbR" x="348.5" y="792.3"/><use href="#pbR" x="362.5" y="792.3"/><use href="#pbR" x="376.5" y="792.3"/><use href="#pbR" x="390.5" y="792.3"/><use href="#pbR" x="404.5" y="792.3"/><use href="#pbR" x="418.5" y="792.3"/><use href="#pbR" x="432.5" y="792.3"/><use href="#pbR" x="446.5" y="792.3"/><use href="#pbR" x="460.5" y="792.3"/><use href="#pbR" x="474.5" y="792.3"/><use href="#pbR" x="488.5" y="792.3"/><use href="#pbR" x="502.5" y="792.3"/><use href="#pbR" x="516.5" y="792.3"/><use href="#pbR" x="530.5" y="792.3"/></g>
<text class="s" x="351.4" y="840.8" font-size="21.5" fill="#e21937" textLength="39.8" lengthAdjust="spacingAndGlyphs" stroke="#e21937" stroke-width="0.8">$132</text>
<g><use href="#pbB" x="348.5" y="860.5"/><use href="#pbB" x="362.5" y="860.5"/><use href="#pbB" x="376.5" y="860.5"/><use href="#pbB" x="390.5" y="860.5"/><use href="#pbB" x="404.5" y="860.5"/><use href="#pbB" x="418.5" y="860.5"/><use href="#pbB" x="432.5" y="860.5"/><use href="#pbB" x="446.5" y="860.5"/><use href="#pbB" x="460.5" y="860.5"/><use href="#pbB" x="474.5" y="860.5"/><use href="#pbB" x="488.5" y="860.5"/><use href="#pbB" x="502.5" y="860.5"/><use href="#pbB" x="516.5" y="860.5"/><use href="#pbB" x="530.5" y="860.5"/><use href="#pbB" x="544.5" y="860.5"/></g>
<g><use href="#pbB" x="348.5" y="887.9"/><use href="#pbB" x="362.5" y="887.9"/><use href="#pbB" x="376.5" y="887.9"/><use href="#pbB" x="390.5" y="887.9"/><use href="#pbB" x="404.5" y="887.9"/><use href="#pbB" x="418.5" y="887.9"/><use href="#pbB" x="432.5" y="887.9"/><use href="#pbB" x="446.5" y="887.9"/><use href="#pbB" x="460.5" y="887.9"/><use href="#pbB" x="474.5" y="887.9"/><use href="#pbB" x="488.5" y="887.9"/><use href="#pbB" x="502.5" y="887.9"/><use href="#pbB" x="516.5" y="887.9"/><use href="#pbB" x="530.5" y="887.9"/><use href="#pbB" x="544.5" y="887.9"/></g>
<g><use href="#pbB" x="348.5" y="915.3"/><use href="#pbB" x="362.5" y="915.3"/><use href="#pbB" x="376.5" y="915.3"/><use href="#pbB" x="390.5" y="915.3"/><use href="#pbB" x="404.5" y="915.3"/><use href="#pbB" x="418.5" y="915.3"/><use href="#pbB" x="432.5" y="915.3"/><use href="#pbB" x="446.5" y="915.3"/><use href="#pbB" x="460.5" y="915.3"/><use href="#pbB" x="474.5" y="915.3"/><use href="#pbB" x="488.5" y="915.3"/><use href="#pbB" x="502.5" y="915.3"/><use href="#pbB" x="516.5" y="915.3"/><use href="#pbB" x="530.5" y="915.3"/><use href="#pbB" x="544.5" y="915.3"/></g>
<g><use href="#pbB" x="348.5" y="942.7"/><use href="#pbB" x="362.5" y="942.7"/><use href="#pbB" x="376.5" y="942.7"/><use href="#pbB" x="390.5" y="942.7"/><use href="#pbB" x="404.5" y="942.7"/><use href="#pbB" x="418.5" y="942.7"/><use href="#pbB" x="432.5" y="942.7"/><use href="#pbB" x="446.5" y="942.7"/><use href="#pbB" x="460.5" y="942.7"/><use href="#pbB" x="474.5" y="942.7"/><use href="#pbB" x="488.5" y="942.7"/><use href="#pbB" x="502.5" y="942.7"/><use href="#pbB" x="516.5" y="942.7"/><use href="#pbB" x="530.5" y="942.7"/><use href="#pbB" x="544.5" y="942.7"/></g>
<g><use href="#pbB" x="348.5" y="970.1"/><use href="#pbB" x="362.5" y="970.1"/><use href="#pbB" x="376.5" y="970.1"/><use href="#pbB" x="390.5" y="970.1"/><use href="#pbB" x="404.5" y="970.1"/><use href="#pbB" x="418.5" y="970.1"/><use href="#pbB" x="432.5" y="970.1"/><use href="#pbB" x="446.5" y="970.1"/><use href="#pbB" x="460.5" y="970.1"/><use href="#pbB" x="474.5" y="970.1"/><use href="#pbB" x="488.5" y="970.1"/><use href="#pbB" x="502.5" y="970.1"/><use href="#pbB" x="516.5" y="970.1"/><use href="#pbB" x="530.5" y="970.1"/><use href="#pbB" x="544.5" y="970.1"/></g>
<g clip-path="url(#cpB)"><use href="#pbB" x="348.5" y="997.5"/><use href="#pbB" x="362.5" y="997.5"/><use href="#pbB" x="376.5" y="997.5"/><use href="#pbB" x="390.5" y="997.5"/><use href="#pbB" x="404.5" y="997.5"/><use href="#pbB" x="418.5" y="997.5"/><use href="#pbB" x="432.5" y="997.5"/><use href="#pbB" x="446.5" y="997.5"/></g>
<text class="s" x="514.6" y="1018.5" font-size="22.5" fill="#015289" textLength="40.5" lengthAdjust="spacingAndGlyphs" stroke="#015289" stroke-width="0.8">$826</text>
<path d="M307,1052.5H564.5" stroke="#d6d6d6" stroke-width="1"/>
<path d="M307,1091.5H564.5" stroke="#d6d6d6" stroke-width="1"/>
<text class="s" x="327.0" y="1069.8" font-size="12.5" fill="#231f20" textLength="217.0" lengthAdjust="spacingAndGlyphs">MAXIMUM MONTHLY SOCIAL SECURITY</text>
<text class="s" x="367.7" y="1084.5" font-size="12.5" fill="#231f20" textLength="135.3" lengthAdjust="spacingAndGlyphs">BENEFIT AT RETIREMENT</text>
<text class="s" x="355.0" y="1115.5" font-size="14" fill="#e21937" textLength="24.3" lengthAdjust="spacingAndGlyphs">1966</text>
<text class="s" x="482.0" y="1115.5" font-size="14" fill="#015289" textLength="24.7" lengthAdjust="spacingAndGlyphs">2010</text>
<rect x="441.4" y="1125" width="105" height="49.6" fill="#80a8c4"/><polygon points="447.4,1127.0 450.6,1126.6 451.0,1129.0 449.8,1130.0 450.6,1132.0 454.0,1139.6 455.0,1138.0 457.4,1138.8 459.0,1138.0 460.6,1140.0 461.6,1141.6 460.0,1142.4 460.6,1145.0 465.0,1151.0 467.4,1157.0 466.6,1161.0 464.6,1162.0 465.4,1174.6 454.0,1174.6 452.6,1166.0 452.0,1158.0 453.0,1150.0 453.4,1145.0 449.0,1133.0 448.2,1130.4 447.0,1129.6" fill="#015289"/><rect x="459" y="1133.3999999999999" width="41.0" height="2.4" fill="#015289"/><rect x="518.4" y="1133.3999999999999" width="22.2" height="2.4" fill="#015289"/><rect x="473.4" y="1148.3999999999999" width="41.6" height="2.4" fill="#015289"/><rect x="491.6" y="1163.3999999999999" width="49.0" height="2.4" fill="#015289"/><rect x="521" y="1146" width="19.6" height="8.6" fill="#015289"/>
<g transform="translate(170.82,694.39) scale(0.3962)"><rect x="441.4" y="1125" width="105" height="49.6" fill="#f08b9b"/><polygon points="447.4,1127.0 450.6,1126.6 451.0,1129.0 449.8,1130.0 450.6,1132.0 454.0,1139.6 455.0,1138.0 457.4,1138.8 459.0,1138.0 460.6,1140.0 461.6,1141.6 460.0,1142.4 460.6,1145.0 465.0,1151.0 467.4,1157.0 466.6,1161.0 464.6,1162.0 465.4,1174.6 454.0,1174.6 452.6,1166.0 452.0,1158.0 453.0,1150.0 453.4,1145.0 449.0,1133.0 448.2,1130.4 447.0,1129.6" fill="#e21937"/><rect x="459" y="1133.3999999999999" width="41.0" height="2.4" fill="#e21937"/><rect x="518.4" y="1133.3999999999999" width="22.2" height="2.4" fill="#e21937"/><rect x="473.4" y="1148.3999999999999" width="41.6" height="2.4" fill="#e21937"/><rect x="491.6" y="1163.3999999999999" width="49.0" height="2.4" fill="#e21937"/><rect x="521" y="1146" width="19.6" height="8.6" fill="#e21937"/></g>
<text class="s" x="346.1" y="1201.0" font-size="23.5" fill="#e21937" textLength="41.2" lengthAdjust="spacingAndGlyphs" stroke="#e21937" stroke-width="0.8">$714</text>
<text class="s" x="466.1" y="1201.0" font-size="23.5" fill="#015289" textLength="56.5" lengthAdjust="spacingAndGlyphs" stroke="#015289" stroke-width="0.8">$1,809</text>
<path d="M307,1229.5H564.5" stroke="#d6d6d6" stroke-width="1"/>
<path d="M307,1253.5H564.5" stroke="#d6d6d6" stroke-width="1"/>
<text class="s" x="342.0" y="1246.0" font-size="12.5" fill="#231f20" textLength="186.7" lengthAdjust="spacingAndGlyphs">EDUCATION SPENDING PER PUPIL</text>
<text class="s" x="314.6" y="1279.6" font-size="13.8" fill="#e21937" textLength="23.8" lengthAdjust="spacingAndGlyphs">1966</text>
<text class="s" x="314.6" y="1324.0" font-size="13.8" fill="#015289" textLength="23.8" lengthAdjust="spacingAndGlyphs">2010</text>
<path d="M318.3,1286.1999999999998H353.4L377.9,1294.6L353.4,1303.0H318.3Q312.3,1303.0 312.3,1294.6Q312.3,1286.1999999999998 318.3,1286.1999999999998Z" fill="#e21937"/><path d="M318.3,1287.9999999999998H322.8Q320.1,1294.6 322.8,1301.2H318.3Q314.1,1301.2 314.1,1294.6Q314.1,1287.9999999999998 318.3,1287.9999999999998Z" fill="#f08b9b"/><rect x="333.3" y="1290.25" width="17.6" height="2.3" fill="#f08b9b"/><rect x="333.3" y="1293.45" width="17.6" height="2.3" fill="#f08b9b"/><rect x="333.3" y="1296.65" width="17.6" height="2.3" fill="#f08b9b"/><path d="M354.2,1288.19L367.6,1292.34V1296.86L354.2,1301.01Z" fill="#f08b9b"/>
<path d="M318.3,1330.1H461.7L487.7,1338.6L461.7,1347.1H318.3Q312.3,1347.1 312.3,1338.6Q312.3,1330.1 318.3,1330.1Z" fill="#015289"/><path d="M318.3,1331.8999999999999H322.8Q320.1,1338.6 322.8,1345.3H318.3Q314.1,1345.3 314.1,1338.6Q314.1,1331.8999999999999 318.3,1331.8999999999999Z" fill="#80a8c4"/><rect x="333.3" y="1334.25" width="125.9" height="2.3" fill="#80a8c4"/><rect x="333.3" y="1337.45" width="125.9" height="2.3" fill="#80a8c4"/><rect x="333.3" y="1340.65" width="125.9" height="2.3" fill="#80a8c4"/><path d="M462.5,1332.09L477.4,1336.46V1340.74L462.5,1345.11Z" fill="#80a8c4"/>
<text class="s" x="386.7" y="1303.0" font-size="23.5" fill="#e21937" textLength="56.2" lengthAdjust="spacingAndGlyphs" stroke="#e21937" stroke-width="0.8">$4,136</text>
<text class="s" x="495.4" y="1347.0" font-size="23.5" fill="#015289" textLength="66.5" lengthAdjust="spacingAndGlyphs" stroke="#015289" stroke-width="0.8">$12,272</text>
<path d="M307,1380.5H564.5" stroke="#d6d6d6" stroke-width="1"/>
<path d="M307,1404.5H564.5" stroke="#d6d6d6" stroke-width="1"/>
<text class="s" x="343.0" y="1397.0" font-size="12.5" fill="#231f20" textLength="185.7" lengthAdjust="spacingAndGlyphs">U.S. GDP RELATIVE TO CHINA GDP</text>
<text class="s" x="366.3" y="1428.3" font-size="14" fill="#e21937" textLength="24.7" lengthAdjust="spacingAndGlyphs">1966</text>
<text class="s" x="492.3" y="1428.3" font-size="14" fill="#015289" textLength="25.7" lengthAdjust="spacingAndGlyphs">2009</text>
<polygon points="308.7,1461.3 310.0,1455.5 311.3,1449.7 313.3,1443.0 315.0,1436.7 316.7,1435.0 318.3,1436.0 319.3,1438.3 320.8,1434.3 338.3,1438.3 355.0,1441.3 371.7,1443.3 382.2,1444.3 383.0,1442.5 384.7,1444.5 391.7,1446.0 396.0,1447.2 392.5,1448.5 395.2,1448.0 397.9,1446.9 400.0,1447.5 402.0,1449.6 406.5,1448.3 410.3,1449.6 408.4,1451.1 405.4,1451.7 403.2,1453.0 401.7,1454.9 401.0,1458.3 401.5,1462.4 402.5,1465.6 403.9,1466.2 404.0,1463.7 403.4,1459.2 403.9,1455.3 406.0,1452.4 409.1,1451.7 411.3,1453.4 411.8,1456.5 412.5,1457.7 413.5,1456.5 414.6,1459.2 414.6,1461.9 413.5,1464.8 415.6,1465.6 418.2,1464.5 421.4,1461.3 423.2,1459.2 422.6,1457.6 425.7,1456.8 428.4,1455.4 429.5,1452.8 431.6,1450.6 436.4,1448.6 439.6,1446.9 441.6,1444.2 441.8,1439.9 442.9,1438.6 446.1,1438.3 447.7,1441.5 449.6,1445.8 448.2,1447.4 445.5,1449.6 443.9,1451.2 442.9,1453.3 443.4,1455.4 446.2,1456.5 445.5,1457.9 442.9,1458.7 440.7,1460.3 438.4,1462.2 436.9,1464.5 437.3,1467.8 436.0,1470.4 434.7,1469.6 433.8,1472.0 432.8,1470.1 433.2,1474.2 434.7,1477.4 434.3,1480.6 435.4,1483.8 433.2,1472.3 435.3,1475.3 436.6,1480.2 434.5,1483.7 431.8,1488.1 428.3,1492.5 425.7,1496.0 424.0,1500.3 424.8,1504.7 428.0,1510.0 430.3,1515.2 430.3,1519.1 427.5,1519.8 424.3,1515.2 421.7,1511.0 419.9,1506.8 418.2,1504.6 415.2,1504.0 410.8,1504.9 406.4,1504.4 402.1,1504.7 399.6,1505.8 401.7,1508.2 398.6,1508.6 395.1,1507.4 390.7,1507.0 385.4,1508.2 381.1,1510.9 378.4,1514.4 377.7,1520.0 375.8,1520.5 373.2,1518.4 371.4,1515.2 367.9,1510.0 364.4,1507.0 361.8,1505.6 359.3,1506.7 357.4,1504.7 353.9,1500.3 350.4,1498.6 348.7,1501.3 346.7,1500.0 340.0,1499.7 332.5,1497.2 327.5,1494.7 321.7,1492.3 319.7,1490.5 316.7,1488.0 314.2,1483.0 311.7,1476.3 309.7,1468.0" fill="#e21937"/>
<polygon points="359.0,1475.8 360.8,1474.2 362.5,1473.8 363.8,1474.8 366.0,1475.8 368.5,1474.5 370.0,1472.5 371.5,1473.0 373.1,1474.8 371.5,1476.2 371.2,1478.0 370.8,1480.0 371.5,1481.2 369.2,1482.0 367.5,1483.8 366.5,1482.2 364.8,1481.8 362.5,1480.0 360.8,1479.2 359.8,1477.5" fill="#f1f1f1"/>
<polygon points="484.1,1458.4 484.5,1456.7 484.9,1454.9 485.5,1452.9 486.0,1451.0 486.5,1450.5 487.0,1450.8 487.3,1451.5 487.8,1450.3 493.0,1451.5 498.0,1452.4 503.0,1453.0 506.2,1453.3 506.4,1452.8 506.9,1453.4 509.0,1453.8 510.3,1454.2 509.3,1454.6 510.1,1454.4 510.9,1454.1 511.5,1454.3 512.1,1454.9 513.5,1454.5 514.6,1454.9 514.0,1455.3 513.1,1455.5 512.5,1455.9 512.0,1456.5 511.8,1457.5 512.0,1458.7 512.3,1459.7 512.7,1459.9 512.7,1459.1 512.5,1457.8 512.7,1456.6 513.3,1455.8 514.3,1455.5 514.9,1456.0 515.1,1457.0 515.3,1457.3 515.6,1457.0 515.9,1457.8 515.9,1458.6 515.6,1459.5 516.2,1459.7 517.0,1459.4 518.0,1458.4 518.5,1457.8 518.3,1457.3 519.2,1457.1 520.0,1456.7 520.4,1455.9 521.0,1455.2 522.5,1454.6 523.4,1454.1 524.0,1453.3 524.1,1452.0 524.4,1451.6 525.3,1451.5 525.8,1452.5 526.4,1453.8 526.0,1454.2 525.2,1454.9 524.7,1455.4 524.4,1456.0 524.5,1456.7 525.4,1457.0 525.2,1457.4 524.4,1457.6 523.7,1458.1 523.0,1458.7 522.6,1459.4 522.7,1460.4 522.3,1461.2 521.9,1460.9 521.7,1461.6 521.4,1461.1 521.5,1462.3 521.9,1463.2 521.8,1464.2 522.1,1465.2 521.5,1461.7 522.1,1462.6 522.5,1464.1 521.9,1465.1 521.1,1466.5 520.0,1467.8 519.2,1468.8 518.7,1470.1 519.0,1471.4 519.9,1473.0 520.6,1474.6 520.6,1475.8 519.8,1476.0 518.8,1474.6 518.0,1473.3 517.5,1472.1 517.0,1471.4 516.1,1471.2 514.8,1471.5 513.5,1471.3 512.1,1471.4 511.4,1471.8 512.0,1472.5 511.1,1472.6 510.0,1472.2 508.7,1472.1 507.2,1472.5 505.8,1473.3 505.1,1474.3 504.8,1476.0 504.3,1476.2 503.5,1475.5 503.0,1474.6 501.9,1473.0 500.8,1472.1 500.1,1471.7 499.3,1472.0 498.7,1471.4 497.7,1470.1 496.6,1469.6 496.1,1470.4 495.5,1470.0 493.5,1469.9 491.3,1469.2 489.8,1468.4 488.0,1467.7 487.4,1467.2 486.5,1466.4 485.8,1464.9 485.0,1462.9 484.4,1460.4" fill="#015289"/>
<polygon points="490.7,1459.0 492.4,1457.5 494.2,1457.0 495.4,1458.0 497.7,1459.0 500.2,1457.8 501.7,1455.8 503.2,1456.3 504.8,1458.0 503.2,1459.5 502.9,1461.3 502.4,1463.3 503.2,1464.5 500.9,1465.3 499.2,1467.0 498.2,1465.5 496.4,1465.0 494.2,1463.3 492.4,1462.5 491.4,1460.8" fill="#f1f1f1"/>
<text class="s" x="338.7" y="1549.0" font-size="24.5" fill="#e21937" textLength="76.6" lengthAdjust="spacingAndGlyphs" stroke="#e21937" stroke-width="0.8">10 TIMES</text>
<text class="s n" x="351.3" y="1566.8" font-size="14.5" fill="#231f20" textLength="50.4" lengthAdjust="spacingAndGlyphs">THE SIZE</text>
<text class="s" x="474.0" y="1503.6" font-size="24.5" fill="#015289" textLength="66.8" lengthAdjust="spacingAndGlyphs" stroke="#015289" stroke-width="0.8">3 TIMES</text>
<text class="s n" x="482.0" y="1521.0" font-size="14.5" fill="#231f20" textLength="50.0" lengthAdjust="spacingAndGlyphs">THE SIZE</text>
<path d="M307,1599.5H564.5" stroke="#d6d6d6" stroke-width="1"/>
<path d="M307,1623.5H564.5" stroke="#d6d6d6" stroke-width="1"/>
<text class="s" x="390.0" y="1617.0" font-size="12.5" fill="#231f20" textLength="89.7" lengthAdjust="spacingAndGlyphs">GDP PER CAPITA</text>
<text class="s" x="356.0" y="1647.4" font-size="14" fill="#e21937" textLength="24.7" lengthAdjust="spacingAndGlyphs">1966</text>
<text class="s" x="490.4" y="1647.4" font-size="14" fill="#015289" textLength="25.2" lengthAdjust="spacingAndGlyphs">2010</text>
<circle cx="368.2" cy="1718.3" r="40.1" fill="#e21937"/><circle cx="503.2" cy="1717.7" r="59.5" fill="#015289"/>
<text class="s" x="334.0" y="1727.7" font-size="24.5" fill="#fff" textLength="67.3" lengthAdjust="spacingAndGlyphs" stroke="#fff" stroke-width="0.8">$21,842</text>
<text class="s" x="469.4" y="1727.7" font-size="24.5" fill="#fff" textLength="68.2" lengthAdjust="spacingAndGlyphs" stroke="#fff" stroke-width="0.8">$47,910</text>
<path d="M36,1036.5H293" stroke="#d6d6d6" stroke-width="1"/>
<path d="M36,1060.5H293" stroke="#d6d6d6" stroke-width="1"/>
<text class="s" x="73.4" y="1052.6" font-size="12.5" fill="#231f20" textLength="182.0" lengthAdjust="spacingAndGlyphs">NUMBER OF PEOPLE IN POVERTY</text>
<text class="s" x="38.6" y="1092.0" font-size="13.8" fill="#e21937" textLength="23.8" lengthAdjust="spacingAndGlyphs">1966</text>
<text class="s" x="38.6" y="1178.5" font-size="13.8" fill="#015289" textLength="23.8" lengthAdjust="spacingAndGlyphs">2009</text>
<defs><g id="pf"><circle cx="0" cy="2.2" r="2.2"/><g transform="translate(0,0.45)"><path d="M-2.4,4.3H2.4Q3.3,4.3 3.6,5.3L5.6,12.3L3.4,12.9L2.7,10.6L4.4,16H-4.4L-2.7,10.6L-3.4,12.9L-5.6,12.3L-3.6,5.3Q-3.3,4.3 -2.4,4.3Z"/><rect x="-2.35" y="15.5" width="1.9" height="8.2"/><rect x="0.45" y="15.5" width="1.9" height="8.2"/></g></g><g id="pm"><circle cx="0" cy="2.2" r="2.2"/><g transform="translate(0,0.45)"><path d="M-3.5,4.3H3.5Q4.7,4.3 4.7,5.5V12.7Q4.7,13.5 3.9,13.5Q3.2,13.5 3.1,12.9L2.7,12.9V23.7H0.35V13.9H-0.35V23.7H-2.7V12.9L-3.1,12.9Q-3.2,13.5 -3.9,13.5Q-4.7,13.5 -4.7,12.7V5.5Q-4.7,4.3 -3.5,4.3Z"/></g></g></defs>
<g fill="#e21937"><use href="#pf" x="78.3" y="1074"/><use href="#pm" x="92.8" y="1074"/><use href="#pf" x="107.3" y="1074"/><use href="#pm" x="121.8" y="1074"/><use href="#pf" x="136.3" y="1074"/><use href="#pm" x="150.8" y="1074"/><use href="#pf" x="165.3" y="1074"/><use href="#pm" x="179.8" y="1074"/><use href="#pf" x="194.3" y="1074"/><use href="#pm" x="208.8" y="1074"/><use href="#pf" x="223.3" y="1074"/><use href="#pm" x="237.8" y="1074"/><use href="#pf" x="252.3" y="1074"/><use href="#pm" x="266.8" y="1074"/><use href="#pf" x="281.3" y="1074"/></g>
<g fill="#e21937"><use href="#pf" x="78.3" y="1100"/><use href="#pm" x="92.8" y="1100"/><use href="#pf" x="107.3" y="1100"/><use href="#pm" x="121.8" y="1100"/><use href="#pf" x="136.3" y="1100"/><use href="#pm" x="150.8" y="1100"/><use href="#pf" x="165.3" y="1100"/><use href="#pm" x="179.8" y="1100"/><use href="#pf" x="194.3" y="1100"/><use href="#pm" x="208.8" y="1100"/><use href="#pf" x="223.3" y="1100"/><use href="#pm" x="237.8" y="1100"/><use href="#pf" x="252.3" y="1100"/><clipPath id="pc1"><rect x="262.1" y="1099" width="4.8" height="27"/></clipPath><g clip-path="url(#pc1)"><use href="#pm" x="266.8" y="1100"/></g></g>
<text class="s" x="74.7" y="1145.0" font-size="22.5" fill="#e21937" textLength="93.9" lengthAdjust="spacingAndGlyphs" stroke="#e21937" stroke-width="0.8">28,510,000</text>
<g fill="#015289"><use href="#pf" x="77.7" y="1161.2"/><use href="#pm" x="92.2" y="1161.2"/><use href="#pf" x="106.7" y="1161.2"/><use href="#pm" x="121.2" y="1161.2"/><use href="#pf" x="135.7" y="1161.2"/><use href="#pm" x="150.2" y="1161.2"/><use href="#pf" x="164.7" y="1161.2"/><use href="#pm" x="179.2" y="1161.2"/><use href="#pf" x="193.7" y="1161.2"/><use href="#pm" x="208.2" y="1161.2"/><use href="#pf" x="222.7" y="1161.2"/><use href="#pm" x="237.2" y="1161.2"/><use href="#pf" x="251.7" y="1161.2"/><use href="#pm" x="266.2" y="1161.2"/><use href="#pf" x="280.7" y="1161.2"/></g>
<g fill="#015289"><use href="#pf" x="77.7" y="1187.2"/><use href="#pm" x="92.2" y="1187.2"/><use href="#pf" x="106.7" y="1187.2"/><use href="#pm" x="121.2" y="1187.2"/><use href="#pf" x="135.7" y="1187.2"/><use href="#pm" x="150.2" y="1187.2"/><use href="#pf" x="164.7" y="1187.2"/><use href="#pm" x="179.2" y="1187.2"/><use href="#pf" x="193.7" y="1187.2"/><use href="#pm" x="208.2" y="1187.2"/><use href="#pf" x="222.7" y="1187.2"/><use href="#pm" x="237.2" y="1187.2"/><use href="#pf" x="251.7" y="1187.2"/><use href="#pm" x="266.2" y="1187.2"/><use href="#pf" x="280.7" y="1187.2"/></g>
<g fill="#015289"><use href="#pf" x="77.7" y="1213.2"/><use href="#pm" x="92.2" y="1213.2"/><use href="#pf" x="106.7" y="1213.2"/><use href="#pm" x="121.2" y="1213.2"/><use href="#pf" x="135.7" y="1213.2"/><use href="#pm" x="150.2" y="1213.2"/><use href="#pf" x="164.7" y="1213.2"/><use href="#pm" x="179.2" y="1213.2"/><use href="#pf" x="193.7" y="1213.2"/><use href="#pm" x="208.2" y="1213.2"/><use href="#pf" x="222.7" y="1213.2"/><use href="#pm" x="237.2" y="1213.2"/><use href="#pf" x="251.7" y="1213.2"/><clipPath id="pc2"><rect x="261.5" y="1212.2" width="5.4" height="27"/></clipPath><g clip-path="url(#pc2)"><use href="#pm" x="266.2" y="1213.2"/></g></g>
<text class="s" x="74.4" y="1259.2" font-size="22.5" fill="#015289" textLength="94.2" lengthAdjust="spacingAndGlyphs" stroke="#015289" stroke-width="0.8">43,569,000</text>
<path d="M36,1293.5H293" stroke="#d6d6d6" stroke-width="1"/>
<path d="M36,1317.5H293" stroke="#d6d6d6" stroke-width="1"/>
<text class="s" x="136.0" y="1309.6" font-size="12.5" fill="#231f20" textLength="57.3" lengthAdjust="spacingAndGlyphs">TOP SONG</text>
<text class="s" x="86.0" y="1342.0" font-size="14" fill="#e21937" textLength="25.7" lengthAdjust="spacingAndGlyphs">1966</text>
<text class="s" x="219.0" y="1342.0" font-size="14" fill="#015289" textLength="25.7" lengthAdjust="spacingAndGlyphs">2009</text>
<text class="s" x="40.7" y="1369.3" font-size="22.8" fill="#e21937" textLength="115.9" lengthAdjust="spacingAndGlyphs" stroke="#e21937" stroke-width="0.8">I’m a Believer</text>
<text class="s" x="204.0" y="1369.3" font-size="22.8" fill="#015289" textLength="57.6" lengthAdjust="spacingAndGlyphs" stroke="#015289" stroke-width="0.8">Tik Tok</text>
<text class="s n" x="47.3" y="1386.7" font-size="14" fill="#231f20" textLength="102.7" lengthAdjust="spacingAndGlyphs">BY THE MONKEES</text>
<text class="s n" x="204.0" y="1386.7" font-size="14" fill="#231f20" textLength="56.0" lengthAdjust="spacingAndGlyphs">BY KE$HA</text>
<path d="M36,1420.5H293" stroke="#d6d6d6" stroke-width="1"/>
<path d="M36,1444.5H293" stroke="#d6d6d6" stroke-width="1"/>
<text class="s" x="89.3" y="1437.0" font-size="12.5" fill="#231f20" textLength="150.7" lengthAdjust="spacingAndGlyphs">COST OF A GALLON OF GAS</text>
<text class="s" x="93.0" y="1473.0" font-size="14" fill="#e21937" textLength="24.7" lengthAdjust="spacingAndGlyphs">1966</text>
<text class="s" x="194.7" y="1473.0" font-size="14" fill="#015289" textLength="25.3" lengthAdjust="spacingAndGlyphs">2010</text>
<path d="M92.5,1528.8 H116 Q117.2,1528.8 118,1529.8 L124.6,1539.6 Q125.4,1540.8 125.4,1542 V1572 Q125.4,1575.5 121.9,1575.5 H76.3 Q72.8,1575.5 72.8,1572 V1542.5 Q72.8,1540.6 74.5,1539.6 L90.5,1529.4 Q91.5,1528.8 92.5,1528.8 Z" fill="#e21937"/><polygon points="74.9,1534.5 79.7,1532.7 69.0,1506.4 57.0,1501.0 58.7,1496.8 74.4,1503.6 86.4,1529.7 88.5,1528.8 90.5,1532.7 77.1,1538.7" fill="#f08b9b"/><rect x="94.7" y="1533" width="19" height="5.7" rx="1.2" fill="#f1f1f1"/>
<g transform="translate(354.12,-664.86) scale(-1.4220,1.4220)"><path d="M92.5,1528.8 H116 Q117.2,1528.8 118,1529.8 L124.6,1539.6 Q125.4,1540.8 125.4,1542 V1572 Q125.4,1575.5 121.9,1575.5 H76.3 Q72.8,1575.5 72.8,1572 V1542.5 Q72.8,1540.6 74.5,1539.6 L90.5,1529.4 Q91.5,1528.8 92.5,1528.8 Z" fill="#015289"/><polygon points="74.9,1534.5 79.7,1532.7 69.0,1506.4 57.0,1501.0 58.7,1496.8 74.4,1503.6 86.4,1529.7 88.5,1528.8 90.5,1532.7 77.1,1538.7" fill="#80a8c4"/><rect x="94.7" y="1533" width="19" height="5.7" rx="1.2" fill="#f1f1f1"/></g>
<text class="s" x="76.2" y="1566.0" font-size="23" fill="#fff" textLength="43.6" lengthAdjust="spacingAndGlyphs" stroke="#fff" stroke-width="0.8">$2.15</text>
<text class="s" x="190.0" y="1560.3" font-size="23" fill="#fff" textLength="45.9" lengthAdjust="spacingAndGlyphs" stroke="#fff" stroke-width="0.8">$3.03</text>
<path d="M36,1599.5H293" stroke="#d6d6d6" stroke-width="1"/>
<path d="M36,1623.5H293" stroke="#d6d6d6" stroke-width="1"/>
<text class="s" x="93.0" y="1617.0" font-size="12.5" fill="#231f20" textLength="144.0" lengthAdjust="spacingAndGlyphs">FEDERAL MINIMUM WAGE</text>
<text class="s" x="85.0" y="1648.0" font-size="14" fill="#e21937" textLength="25.3" lengthAdjust="spacingAndGlyphs">1966</text>
<text class="s" x="219.0" y="1648.0" font-size="14" fill="#015289" textLength="25.7" lengthAdjust="spacingAndGlyphs">2010</text>
<rect x="42.1" y="1656" width="112.6" height="56.8" fill="#e21937"/><rect x="46.8" y="1660.8" width="103.2" height="47.2" fill="#f08b9b"/><ellipse cx="51.4" cy="1665.8" rx="6.6" ry="7.6" fill="#e21937"/><ellipse cx="51.4" cy="1665.8" rx="4.4" ry="5.4" fill="#f08b9b"/><text class="f" x="51.4" y="1669.2" font-size="10" text-anchor="middle" fill="#f6f2e4">$</text><ellipse cx="51.4" cy="1702.6" rx="6.6" ry="7.6" fill="#e21937"/><ellipse cx="51.4" cy="1702.6" rx="4.4" ry="5.4" fill="#f08b9b"/><text class="f" x="51.4" y="1706.0" font-size="10" text-anchor="middle" fill="#f6f2e4">$</text><ellipse cx="146.6" cy="1665.8" rx="6.6" ry="7.6" fill="#e21937"/><ellipse cx="146.6" cy="1665.8" rx="4.4" ry="5.4" fill="#f08b9b"/><text class="f" x="146.6" y="1669.2" font-size="10" text-anchor="middle" fill="#f6f2e4">$</text><ellipse cx="146.6" cy="1702.6" rx="6.6" ry="7.6" fill="#e21937"/><ellipse cx="146.6" cy="1702.6" rx="4.4" ry="5.4" fill="#f08b9b"/><text class="f" x="146.6" y="1706.0" font-size="10" text-anchor="middle" fill="#f6f2e4">$</text><ellipse cx="98.8" cy="1684.2" rx="24.3" ry="26.5" fill="#e21937"/><ellipse cx="98.8" cy="1684.2" rx="17.3" ry="20.9" fill="#f08b9b"/><text class="f" x="98.8" y="1697.3" font-size="41" text-anchor="middle" fill="#f6f2e4" stroke="#f6f2e4" stroke-width="1">$</text>
<g transform="translate(147.73,233.03) scale(0.8615)"><rect x="42.1" y="1656" width="112.6" height="56.8" fill="#015289"/><rect x="46.8" y="1660.8" width="103.2" height="47.2" fill="#80a8c4"/><ellipse cx="51.4" cy="1665.8" rx="6.6" ry="7.6" fill="#015289"/><ellipse cx="51.4" cy="1665.8" rx="4.4" ry="5.4" fill="#80a8c4"/><text class="f" x="51.4" y="1669.2" font-size="10" text-anchor="middle" fill="#f6f2e4">$</text><ellipse cx="51.4" cy="1702.6" rx="6.6" ry="7.6" fill="#015289"/><ellipse cx="51.4" cy="1702.6" rx="4.4" ry="5.4" fill="#80a8c4"/><text class="f" x="51.4" y="1706.0" font-size="10" text-anchor="middle" fill="#f6f2e4">$</text><ellipse cx="146.6" cy="1665.8" rx="6.6" ry="7.6" fill="#015289"/><ellipse cx="146.6" cy="1665.8" rx="4.4" ry="5.4" fill="#80a8c4"/><text class="f" x="146.6" y="1669.2" font-size="10" text-anchor="middle" fill="#f6f2e4">$</text><ellipse cx="146.6" cy="1702.6" rx="6.6" ry="7.6" fill="#015289"/><ellipse cx="146.6" cy="1702.6" rx="4.4" ry="5.4" fill="#80a8c4"/><text class="f" x="146.6" y="1706.0" font-size="10" text-anchor="middle" fill="#f6f2e4">$</text><ellipse cx="98.8" cy="1684.2" rx="24.3" ry="26.5" fill="#015289"/><ellipse cx="98.8" cy="1684.2" rx="17.3" ry="20.9" fill="#80a8c4"/><text class="f" x="98.8" y="1697.3" font-size="41" text-anchor="middle" fill="#f6f2e4" stroke="#f6f2e4" stroke-width="1">$</text></g>
<text class="s" x="74.7" y="1740.3" font-size="23" fill="#e21937" textLength="44.9" lengthAdjust="spacingAndGlyphs" stroke="#e21937" stroke-width="0.8">$8.41</text>
<text class="s" x="210.1" y="1740.3" font-size="23" fill="#015289" textLength="44.9" lengthAdjust="spacingAndGlyphs" stroke="#015289" stroke-width="0.8">$7.25</text>
<text class="s n" x="224.0" y="1810.6" font-size="13.5" fill="#231f20" textLength="152.0" lengthAdjust="spacingAndGlyphs" stroke="#231f20" stroke-width="0.25">All figures are in 2010 dollars</text>
</svg>
</body></html>
